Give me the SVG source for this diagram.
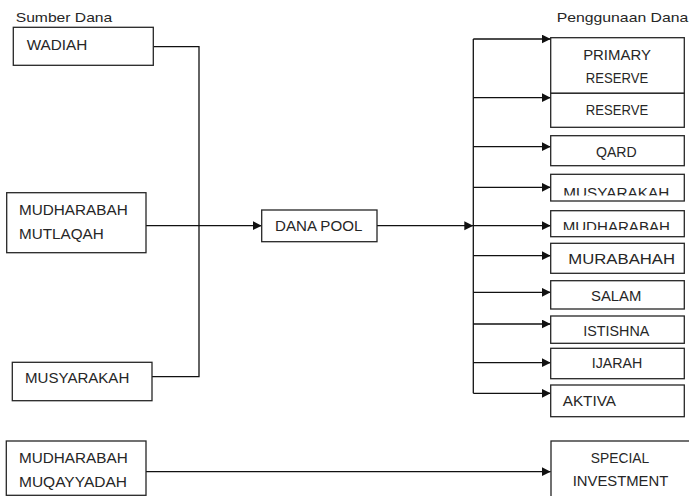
<svg xmlns="http://www.w3.org/2000/svg" width="689" height="496" viewBox="0 0 689 496">
<style>
.box{fill:#fff;stroke:#262626;stroke-width:1.3}
.ln{fill:none;stroke:#111;stroke-width:1.3}
.t{font-family:"Liberation Sans",Arial,sans-serif;font-size:15px;fill:#262626}
.h{font-family:"Liberation Sans",Arial,sans-serif;font-size:13.5px;fill:#262626}
.c{text-anchor:middle}
</style>
<defs>
<marker id="arr" markerUnits="userSpaceOnUse" markerWidth="10" markerHeight="10" refX="9" refY="4.5" orient="auto">
<path d="M0,0 L9,4.5 L0,9 z" fill="#111"/>
</marker>
<clipPath id="clipMus"><rect x="551" y="170" width="134" height="25.5"/></clipPath>
<clipPath id="clipMud"><rect x="551" y="205" width="134" height="25"/></clipPath>
</defs>
<rect width="689" height="496" fill="#fff"/>
<text class="h" x="15.7" y="22" textLength="96.6" lengthAdjust="spacingAndGlyphs">Sumber Dana</text>
<text class="h" x="556.7" y="22" textLength="131.6" lengthAdjust="spacingAndGlyphs">Penggunaan Dana</text>
<g id="connectors">
<polyline class="ln" points="153.3,46.7 199,46.7 199,376.7 152,376.7"/>
<line class="ln" x1="146" y1="225.7" x2="261.7" y2="225.7" marker-end="url(#arr)"/>
<line class="ln" x1="377" y1="225.7" x2="473.3" y2="225.7" marker-end="url(#arr)"/>
<line class="ln" x1="473.3" y1="39" x2="473.3" y2="393.3"/>
<line class="ln" x1="473.3" y1="39" x2="550.7" y2="39" marker-end="url(#arr)"/>
<line class="ln" x1="473.3" y1="97.7" x2="550.7" y2="97.7" marker-end="url(#arr)"/>
<line class="ln" x1="473.3" y1="146.7" x2="550.7" y2="146.7" marker-end="url(#arr)"/>
<line class="ln" x1="473.3" y1="187.3" x2="550.7" y2="187.3" marker-end="url(#arr)"/>
<line class="ln" x1="473.3" y1="225.7" x2="550.7" y2="225.7" marker-end="url(#arr)"/>
<line class="ln" x1="473.3" y1="255.7" x2="550.7" y2="255.7" marker-end="url(#arr)"/>
<line class="ln" x1="473.3" y1="292.3" x2="550.7" y2="292.3" marker-end="url(#arr)"/>
<line class="ln" x1="473.3" y1="324" x2="550.7" y2="324" marker-end="url(#arr)"/>
<line class="ln" x1="473.3" y1="362.7" x2="550.7" y2="362.7" marker-end="url(#arr)"/>
<line class="ln" x1="473.3" y1="393.3" x2="550.7" y2="393.3" marker-end="url(#arr)"/>
<line class="ln" x1="146" y1="471.7" x2="550.7" y2="471.7" marker-end="url(#arr)"/>
</g>
<g id="wadiah">
<rect class="box" x="13.3" y="27.3" width="140" height="38"/>
<text class="t" x="26.7" y="49.5" textLength="60.6" lengthAdjust="spacingAndGlyphs">WADIAH</text>
</g>
<g id="mudharabah-mutlaqah">
<rect class="box" x="6.7" y="192.7" width="139.3" height="60"/>
<text class="t" x="19" y="215" textLength="108.7" lengthAdjust="spacingAndGlyphs">MUDHARABAH</text>
<text class="t" x="19" y="239" textLength="84.7" lengthAdjust="spacingAndGlyphs">MUTLAQAH</text>
</g>
<g id="musyarakah-src">
<rect class="box" x="12.3" y="362.3" width="139.7" height="38.4"/>
<text class="t" x="25" y="383.3" textLength="104.3" lengthAdjust="spacingAndGlyphs">MUSYARAKAH</text>
</g>
<g id="mudharabah-muqayyadah">
<rect class="box" x="6.3" y="441" width="139.7" height="54.3"/>
<text class="t" x="19" y="463.3" textLength="108.7" lengthAdjust="spacingAndGlyphs">MUDHARABAH</text>
<text class="t" x="19" y="487.3" textLength="108" lengthAdjust="spacingAndGlyphs">MUQAYYADAH</text>
</g>
<g id="dana-pool">
<rect class="box" x="261.7" y="210" width="115.3" height="31.7"/>
<text class="t" x="275" y="230.7" textLength="87.3" lengthAdjust="spacingAndGlyphs">DANA POOL</text>
</g>
<g id="primary-reserve">
<rect class="box" x="550.7" y="37.7" width="133.6" height="55.6"/>
<text class="t c" x="617" y="60" textLength="67.7" lengthAdjust="spacingAndGlyphs">PRIMARY</text>
<text class="t c" x="617" y="83.3" textLength="62.3" lengthAdjust="spacingAndGlyphs">RESERVE</text>
</g>
<g id="reserve">
<rect class="box" x="550.7" y="93.3" width="133.6" height="34"/>
<text class="t c" x="617" y="115" textLength="62.3" lengthAdjust="spacingAndGlyphs">RESERVE</text>
</g>
<g id="qard">
<rect class="box" x="550.7" y="135.7" width="133.6" height="30"/>
<text class="t c" x="616.3" y="156.7" textLength="40.7" lengthAdjust="spacingAndGlyphs">QARD</text>
</g>
<g id="musyarakah">
<rect class="box" x="550.7" y="174.3" width="133.6" height="26.7"/>
<text class="t c" x="616.3" y="197.6" textLength="106" lengthAdjust="spacingAndGlyphs" clip-path="url(#clipMus)">MUSYARAKAH</text>
</g>
<g id="mudharabah">
<rect class="box" x="550.7" y="210.7" width="133.6" height="26"/>
<text class="t c" x="616.3" y="232.4" textLength="107.3" lengthAdjust="spacingAndGlyphs" clip-path="url(#clipMud)">MUDHARABAH</text>
</g>
<g id="murabahah">
<rect class="box" x="550.7" y="243.3" width="133.6" height="30"/>
<text class="t c" x="621.7" y="264" textLength="106.7" lengthAdjust="spacingAndGlyphs">MURABAHAH</text>
</g>
<g id="salam">
<rect class="box" x="550.7" y="280.7" width="133.6" height="28.3"/>
<text class="t c" x="616.2" y="301" textLength="50.3" lengthAdjust="spacingAndGlyphs">SALAM</text>
</g>
<g id="istishna">
<rect class="box" x="550.7" y="316" width="133.6" height="27.3"/>
<text class="t c" x="616.3" y="335.7" textLength="66" lengthAdjust="spacingAndGlyphs">ISTISHNA</text>
</g>
<g id="ijarah">
<rect class="box" x="550.7" y="348.3" width="133.6" height="30.4"/>
<text class="t c" x="617" y="368.3" textLength="50.6" lengthAdjust="spacingAndGlyphs">IJARAH</text>
</g>
<g id="aktiva">
<rect class="box" x="550.7" y="385" width="133.6" height="31.7"/>
<text class="t" x="562.7" y="405.7" textLength="53.3" lengthAdjust="spacingAndGlyphs">AKTIVA</text>
</g>
<g id="special-investment">
<rect class="box" x="551" y="441" width="145" height="60"/>
<text class="t c" x="620" y="462.7" textLength="58.3" lengthAdjust="spacingAndGlyphs">SPECIAL</text>
<text class="t c" x="620.5" y="486" textLength="95.6" lengthAdjust="spacingAndGlyphs">INVESTMENT</text>
</g>
</svg>
